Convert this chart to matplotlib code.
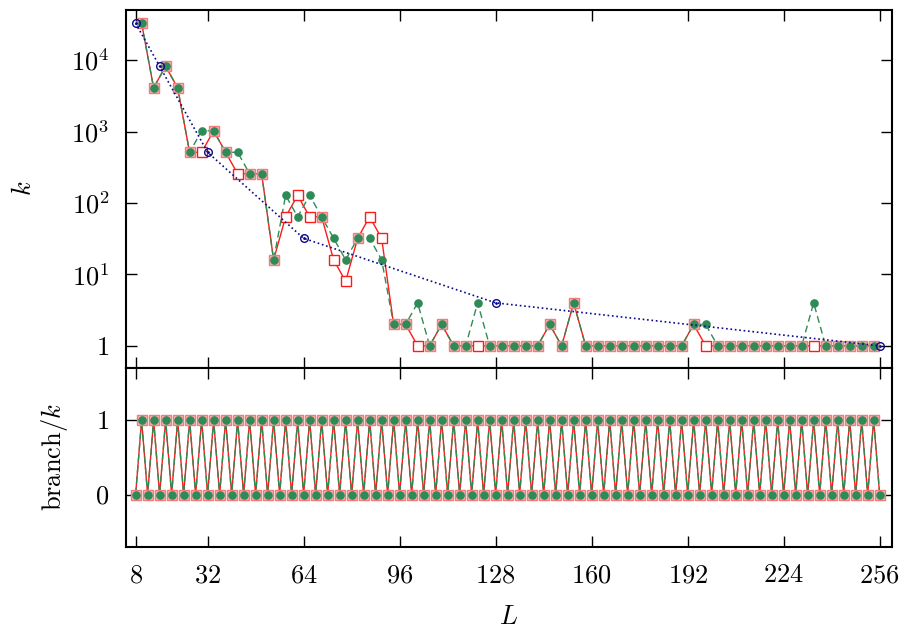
import matplotlib
matplotlib.use("Agg")
import matplotlib.pyplot as plt
import numpy as np

plt.rcParams['mathtext.fontset'] = 'cm'
plt.rcParams['font.family'] = 'serif'
plt.rcParams['font.serif'] = ['cmr10', 'DejaVu Serif']
plt.rcParams['axes.unicode_minus'] = False

# top panel: k versus L
L_pow2 = [8, 16, 32, 64, 128, 256]
k_pow2 = [32768, 8192, 512, 32, 4, 1]

L_main = list(range(10, 258, 4))
k_red = [32768, 4096, 8192, 4096, 512, 512, 1024, 512, 256, 256, 256,
         16, 64, 128, 64, 64, 16, 8, 32, 64, 32,
         2, 2, 1, 1, 2, 1, 1, 1, 1, 1,
         1, 1, 1, 2, 1, 4, 1, 1, 1, 1,
         1, 1, 1, 1, 1, 2, 1, 1, 1, 1,
         1, 1, 1, 1, 1, 1, 1, 1, 1, 1, 1]
k_green = [32768, 4096, 8192, 4096, 512, 1024, 1024, 512, 512, 256, 256,
           16, 128, 64, 128, 64, 32, 16, 32, 32, 16,
           2, 2, 4, 1, 2, 1, 1, 4, 1, 1,
           1, 1, 1, 2, 1, 4, 1, 1, 1, 1,
           1, 1, 1, 1, 1, 2, 2, 1, 1, 1,
           1, 1, 1, 1, 1, 4, 1, 1, 1, 1, 1]

# bottom panel: branch/k versus L
L_branch = list(range(8, 258, 2))
branch = [0, 1, 0, 1, 0, 1, 0, 1, 0, 1, 0, 1, 0, 1, 0, 1, 0, 1, 0, 1,
          0, 1, 0, 1, 0, 1, 0, 1, 0, 1, 0, 1, 0, 1, 0, 1, 0, 1, 0, 1,
          0, 1, 0, 1, 0, 1, 0, 1, 0, 1, 0, 1, 0, 1, 0, 1, 0, 1, 0, 1,
          0, 1, 0, 1, 0, 1, 0, 1, 0, 1, 0, 1, 0, 1, 0, 1, 0, 1, 0, 1,
          0, 1, 0, 1, 0, 1, 0, 1, 0, 1, 0, 1, 0, 1, 0, 1, 0, 1, 0, 1,
          0, 1, 0, 1, 0, 1, 0, 1, 0, 1, 0, 1, 0, 1, 0, 1, 0, 1, 0, 1,
          0, 1, 0, 1, 0]

xticks = [8, 32, 64, 96, 128, 160, 192, 224, 256]

RED = '#ff1a1a'
PINK_FACE = '#fcb4b4'
PINK_EDGE = '#f77a7a'
GREEN = '#2e8b57'
NAVY = '#0a0a8c'

fig = plt.figure(figsize=(9.04, 6.31), dpi=100)
ax1 = fig.add_axes([0.1394, 0.4168, 0.8473, 0.5681])
ax2 = fig.add_axes([0.1394, 0.1336, 0.8473, 0.2832])


def draw_pair(ax, x, yr, yg):
    x = np.asarray(x)
    yr = np.asarray(yr)
    yg = np.asarray(yg)
    same = yr == yg
    ax.plot(x, yr, '-', color=RED, lw=1.0, zorder=2)
    ax.plot(x, yg, '--', color=GREEN, lw=1.0, dashes=(5, 3), zorder=3)
    ax.plot(x[~same], yr[~same], 's', ms=7, mfc='white', mec=RED, mew=1.0,
            zorder=4)
    ax.plot(x[same], yr[same], 's', ms=7.5, mfc=PINK_FACE, mec=PINK_EDGE,
            mew=1.0, zorder=4)
    ax.plot(x, yg, 'o', ms=5.2, color=GREEN, mec=GREEN, zorder=5)


draw_pair(ax1, L_main, k_red, k_green)
ax1.plot(L_pow2, k_pow2, ':', color=NAVY, lw=1.2, zorder=6)
ax1.plot(L_pow2, k_pow2, 'o', ms=5.5, mfc='none', mec=NAVY, mew=1.0, zorder=7)
ax1.plot(L_pow2, k_pow2, '.', ms=2, color=NAVY, zorder=7)

ax1.set_yscale('log')
ax1.set_ylim(0.49, 5.1e4)
ax1.set_xlim(4.8, 260.1)
ax1.set_yticks([1, 10, 100, 1000, 10000])
ax1.set_yticklabels(['$1$', '$10^1$', '$10^2$', '$10^3$', '$10^4$'])
ax1.yaxis.set_minor_locator(matplotlib.ticker.NullLocator())
ax1.set_xticks(xticks)
ax1.set_xticklabels([])
ax1.set_ylabel('$k$', fontsize=19)
ax1.yaxis.set_label_coords(-0.118, 0.5)

draw_pair(ax2, L_branch, branch, branch)
ax2.set_xlim(4.8, 260.1)
ax2.set_ylim(-0.7, 1.7)
ax2.set_yticks([0, 1])
ax2.set_yticklabels(['$0$', '$1$'])
ax2.set_xticks(xticks)
ax2.set_xticklabels(['$%d$' % t for t in xticks])
ax2.set_ylabel(r'$\mathrm{branch}/k$', fontsize=19)
ax2.yaxis.set_label_coords(-0.073, 0.5)
ax2.set_xlabel('$L$', fontsize=19)
ax2.xaxis.set_label_coords(0.5, -0.325)

for ax in (ax1, ax2):
    ax.tick_params(direction='in', length=8, width=1.0, top=True, right=True,
                   labelsize=19, pad=12)
    for s in ax.spines.values():
        s.set_linewidth(1.5)

fig.savefig('out.png', dpi=100)
